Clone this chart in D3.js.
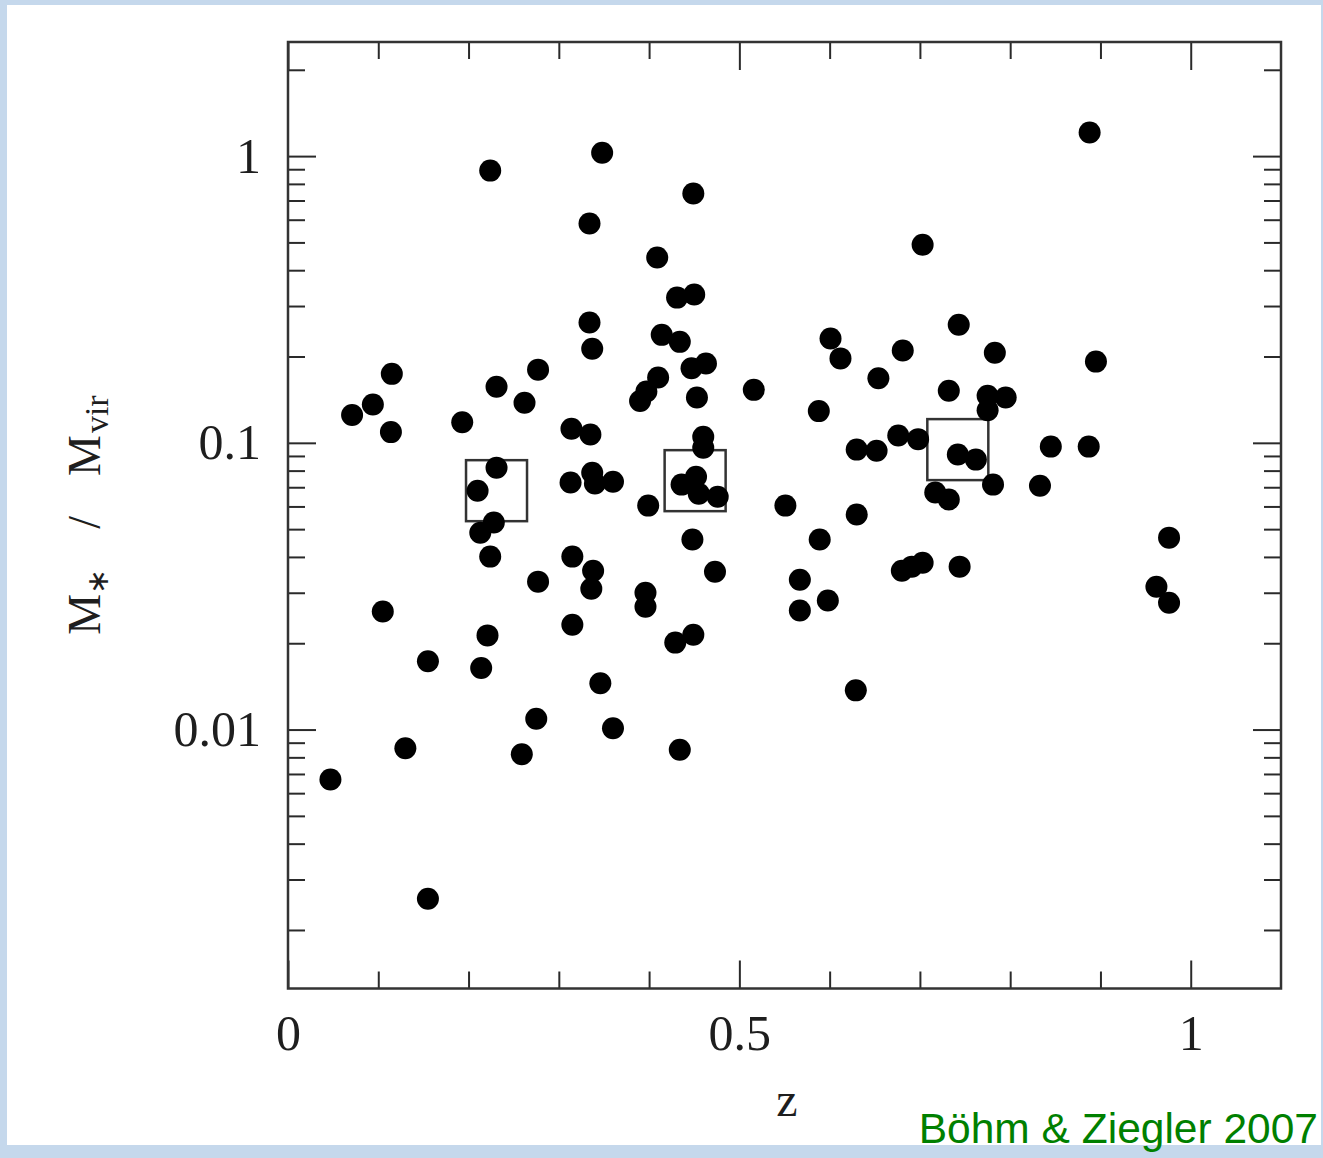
<!DOCTYPE html>
<html>
<head>
<meta charset="utf-8">
<script src="https://cdn.jsdelivr.net/npm/d3@7"></script>
<style>
  html, body { margin: 0; padding: 0; background: #c5d8ec; }
  svg { display: block; }
</style>
</head>
<body>
<svg></svg>
<script>
// redshift and stellar-to-virial mass ratio, one entry per galaxy
const redshift = [
  0.047, 0.071, 0.094, 0.115, 0.114, 0.105, 0.130, 0.155, 0.155, 0.193,
  0.224, 0.231, 0.210, 0.213, 0.231, 0.228, 0.224, 0.221, 0.214, 0.262,
  0.277, 0.277, 0.275, 0.259, 0.348, 0.334, 0.334, 0.337, 0.314, 0.335,
  0.313, 0.337, 0.340, 0.360, 0.315, 0.338, 0.336, 0.315, 0.346, 0.360,
  0.449, 0.409, 0.431, 0.450, 0.414, 0.434, 0.410, 0.390, 0.397, 0.447,
  0.463, 0.453, 0.460, 0.460, 0.399, 0.436, 0.452, 0.455, 0.476, 0.448,
  0.473, 0.396, 0.396, 0.429, 0.449, 0.434, 0.516, 0.551, 0.589, 0.567,
  0.567, 0.598, 0.629, 0.601, 0.612, 0.588, 0.630, 0.652, 0.654, 0.630,
  0.681, 0.676, 0.698, 0.703, 0.743, 0.732, 0.717, 0.732, 0.742, 0.762,
  0.680, 0.691, 0.703, 0.744, 0.775, 0.775, 0.795, 0.783, 0.781, 0.833,
  0.845, 0.888, 0.895, 0.887, 0.976, 0.962, 0.976
];
const massRatio = [
  0.0067, 0.125, 0.136, 0.174, 0.109, 0.0258, 0.0086, 0.0173, 0.00257, 0.118,
  0.89, 0.157, 0.0681, 0.0486, 0.0819, 0.0527, 0.0401, 0.0213, 0.0164, 0.138,
  0.180, 0.0328, 0.0109, 0.0082, 1.028, 0.582, 0.263, 0.213, 0.112, 0.107,
  0.0727, 0.0787, 0.0721, 0.0732, 0.0401, 0.0358, 0.0310, 0.0232, 0.0145, 0.0101,
  0.740, 0.443, 0.321, 0.329, 0.238, 0.225, 0.169, 0.140, 0.151, 0.182,
  0.189, 0.144, 0.105, 0.0962, 0.0604, 0.0715, 0.0762, 0.0665, 0.0649, 0.0460,
  0.0355, 0.0300, 0.0268, 0.0201, 0.0214, 0.0085, 0.153, 0.0604, 0.0460, 0.0333,
  0.0260, 0.0282, 0.0137, 0.231, 0.197, 0.129, 0.0947, 0.0939, 0.168, 0.0562,
  0.210, 0.106, 0.103, 0.491, 0.258, 0.152, 0.0671, 0.0634, 0.0910, 0.0874,
  0.0358, 0.0370, 0.0382, 0.0370, 0.146, 0.130, 0.144, 0.206, 0.0715, 0.0709,
  0.0970, 1.208, 0.192, 0.0970, 0.0467, 0.0315, 0.0277
];

// binned means (open squares)
const binRedshift = [0.231, 0.451, 0.742];
const binRatio = [0.0681, 0.0738, 0.0947];

const xTickValues = [0, 0.5, 1];
const xTickLabels = ["0", "0.5", "1"];
const yTickValues = [0.01, 0.1, 1];
const yTickLabels = ["0.01", "0.1", "1"];

const width = 1323;
const height = 1158;
const plotLeft = 288;
const plotRight = 1281;
const plotTop = 42;
const plotBottom = 988.5;

const serif = "'Liberation Serif', 'Times New Roman', serif";
const ink = "#1e1e1e";

const svg = d3.select("svg").attr("width", width).attr("height", height);

// white page inside the light blue frame
svg.append("rect")
  .attr("x", 7).attr("y", 5)
  .attr("width", 1314).attr("height", 1140)
  .attr("fill", "#ffffff");

const xScale = d3.scaleLinear().domain([0, 1.1]).range([plotLeft, plotRight]);
const yScale = d3.scaleLog().domain([0.00125, 2.5]).range([plotBottom, plotTop]);

const xMinor = xScale.ticks(11).filter(v => v > 0 && v < 1.099 && !xTickValues.some(t => Math.abs(t - v) < 1e-9));
const yMinor = yScale.ticks().filter(v => !yTickValues.some(t => Math.abs(t - v) < 1e-12));

let styleAxis = (g) => {
  g.select(".domain").remove();
  g.selectAll(".tick line").attr("stroke", "#2a2a2a").attr("stroke-width", 2);
  g.selectAll(".tick text")
    .attr("fill", ink)
    .style("font-family", serif)
    .style("font-size", "50px");
};

// bottom
svg.append("g")
  .attr("transform", "translate(0," + plotBottom + ")")
  .call(d3.axisBottom(xScale).tickValues(xTickValues)
    .tickFormat((d, i) => xTickLabels[i]).tickSizeInner(-28).tickSizeOuter(0).tickPadding(26))
  .call(styleAxis);
svg.append("g")
  .attr("transform", "translate(0," + plotBottom + ")")
  .call(d3.axisBottom(xScale).tickValues(xMinor).tickFormat("").tickSizeInner(-17).tickSizeOuter(0))
  .call(styleAxis);

// top
svg.append("g")
  .attr("transform", "translate(0," + plotTop + ")")
  .call(d3.axisTop(xScale).tickValues(xTickValues).tickFormat("").tickSizeInner(-28).tickSizeOuter(0))
  .call(styleAxis);
svg.append("g")
  .attr("transform", "translate(0," + plotTop + ")")
  .call(d3.axisTop(xScale).tickValues(xMinor).tickFormat("").tickSizeInner(-17).tickSizeOuter(0))
  .call(styleAxis);

// left
svg.append("g")
  .attr("transform", "translate(" + plotLeft + ",0)")
  .call(d3.axisLeft(yScale).tickValues(yTickValues)
    .tickFormat((d, i) => yTickLabels[i]).tickSizeInner(-28).tickSizeOuter(0).tickPadding(27))
  .call(styleAxis);
svg.append("g")
  .attr("transform", "translate(" + plotLeft + ",0)")
  .call(d3.axisLeft(yScale).tickValues(yMinor).tickFormat("").tickSizeInner(-17).tickSizeOuter(0))
  .call(styleAxis);

// right
svg.append("g")
  .attr("transform", "translate(" + plotRight + ",0)")
  .call(d3.axisRight(yScale).tickValues(yTickValues).tickFormat("").tickSizeInner(-28).tickSizeOuter(0))
  .call(styleAxis);
svg.append("g")
  .attr("transform", "translate(" + plotRight + ",0)")
  .call(d3.axisRight(yScale).tickValues(yMinor).tickFormat("").tickSizeInner(-17).tickSizeOuter(0))
  .call(styleAxis);

// plot frame
svg.append("rect")
  .attr("x", plotLeft).attr("y", plotTop)
  .attr("width", plotRight - plotLeft).attr("height", plotBottom - plotTop)
  .attr("fill", "none")
  .attr("stroke", "#333")
  .attr("stroke-width", 2.5);

// open squares (drawn under the dots)
const boxSize = 61;
svg.append("g")
  .selectAll("rect")
  .data(binRedshift.map((d, i) => [d, binRatio[i]]))
  .enter()
  .append("rect")
  .attr("x", d => xScale(d[0]) - boxSize / 2)
  .attr("y", d => yScale(d[1]) - boxSize / 2)
  .attr("width", boxSize)
  .attr("height", boxSize)
  .attr("fill", "none")
  .attr("stroke", "#333")
  .attr("stroke-width", 2.5);

// galaxies
svg.append("g")
  .selectAll("circle")
  .data(redshift.map((d, i) => [d, massRatio[i]]))
  .enter()
  .append("circle")
  .attr("cx", d => xScale(d[0]))
  .attr("cy", d => yScale(d[1]))
  .attr("r", 11)
  .attr("fill", "#000");

// axis titles
svg.append("text")
  .attr("x", 787)
  .attr("y", 1116)
  .attr("text-anchor", "middle")
  .attr("fill", ink)
  .style("font-family", serif)
  .style("font-size", "48px")
  .text("z");

const yTitle = svg.append("text")
  .attr("transform", "translate(100,515) rotate(-90)")
  .attr("text-anchor", "middle")
  .attr("fill", ink)
  .style("font-family", serif)
  .style("font-size", "46px");
yTitle.append("tspan").text("M");
yTitle.append("tspan").attr("dy", 8).style("font-size", "30px").text("∗");
yTitle.append("tspan").attr("dy", -8).attr("dx", 40).text("/");
yTitle.append("tspan").attr("dx", 40).text("M");
yTitle.append("tspan").attr("dy", 8).attr("dx", 2).style("font-size", "34px").text("vir");

// credit
svg.append("text")
  .attr("x", 1318)
  .attr("y", 1143)
  .attr("text-anchor", "end")
  .attr("fill", "#008000")
  .style("font-family", "'Liberation Sans', Arial, sans-serif")
  .style("font-size", "42.5px")
  .text("Böhm & Ziegler 2007");
</script>
</body>
</html>
